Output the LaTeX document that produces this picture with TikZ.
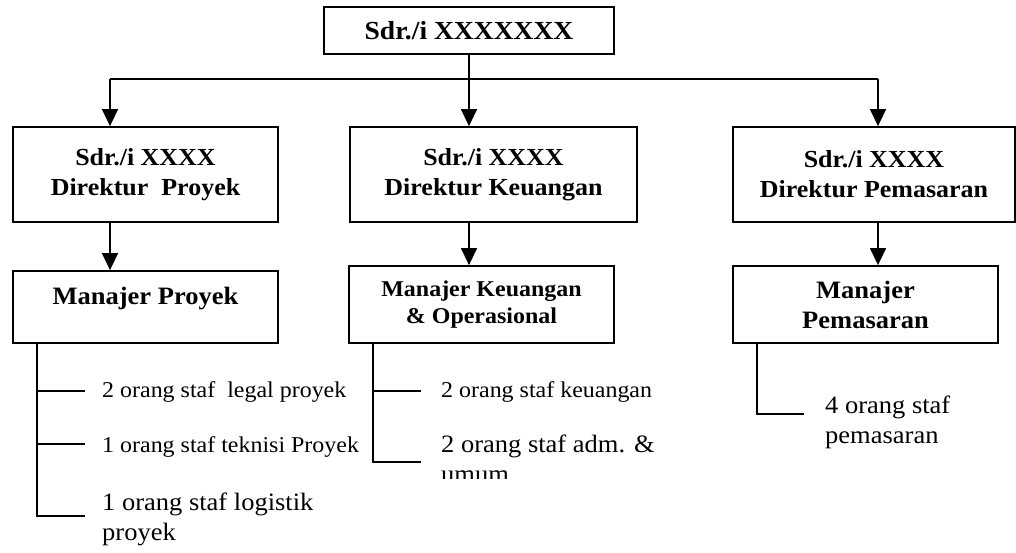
\documentclass[tikz,border=0pt]{standalone}
\usepackage{fontspec}
\setmainfont{Liberation Serif}[FakeStretch=1.06]
\usetikzlibrary{arrows.meta}
\newcommand\fsTop{\fontsize{26.0}{30}\selectfont}
\newcommand\fsDir{\fontsize{24.5}{30}\selectfont}
\newcommand\fsMgr{\fontsize{25.0}{30}\selectfont}
\newcommand\fsMgrK{\fontsize{22.6}{27}\selectfont}
\newcommand\fsS{\fontsize{22.6}{30}\selectfont}
\newcommand\fsL{\fontsize{25.0}{30}\selectfont}
\begin{document}
\begin{tikzpicture}[x=1pt,y=-1pt,
  box/.style={draw, line width=1.8pt, rectangle, inner sep=0pt, align=center},
  conn/.style={line width=1.5pt},
  arr/.style={conn, -{Triangle[length=17pt,width=16pt]}},
  staff/.style={inner sep=0pt, align=left}]
\useasboundingbox (0,0) rectangle (1016,552);
% boxes
\node[box, minimum width=290pt, minimum height=47pt, font=\bfseries\fsTop] (top) at (469,30.5) {Sdr./i XXXXXXX};
\node[box, minimum width=265pt, minimum height=95pt, font=\bfseries\fsDir] (d1) at (145.5,174.5) {Sdr./i XXXX\\Direktur\ \ Proyek};
\node[box, minimum width=287pt, minimum height=95pt, font=\bfseries\fsDir] (d2) at (493.5,174.5) {Sdr./i XXXX\\Direktur Keuangan};
\node[box, minimum width=282pt, minimum height=95pt, font=\bfseries\fsDir] (d3) at (874,174.5) {Sdr./i XXXX\\Direktur Pemasaran};
\node[box, minimum width=265pt, minimum height=72pt, text depth=23pt, font=\bfseries\fsMgr] (m1) at (145.5,307) {Manajer Proyek};
\node[box, minimum width=265pt, minimum height=77pt, font=\bfseries\fsMgrK] (m2) at (481.5,304.5) {Manajer Keuangan\\\& Operasional};
\node[box, minimum width=265pt, minimum height=77pt, font=\bfseries\fsMgr] (m3) at (865.5,304.5) {Manajer\\Pemasaran};
% connectors
\coordinate (hub) at (469,79);
\coordinate (c1) at (110,79);
\coordinate (c3) at (878,79);
\draw[conn] (top.south) -- (hub);
\draw[conn] (c1) -- (c3);
\draw[arr] (c1) -- (c1 |- d1.north);
\draw[arr] (hub) -- (hub |- d2.north);
\draw[arr] (c3) -- (c3 |- d3.north);
\draw[arr] (c1 |- d1.south) -- (c1 |- m1.north);
\draw[arr] (hub |- d2.south) -- (hub |- m2.north);
\draw[arr] (c3 |- d3.south) -- (c3 |- m3.north);
% staff brackets
\coordinate (v1) at (37,0);
\coordinate (k1) at (85,391);
\coordinate (k2) at (85,444);
\coordinate (k3) at (85,516);
\draw[conn] (m1.south -| v1) |- (k3);
\draw[conn] (k1 -| v1) -- (k1);
\draw[conn] (k2 -| v1) -- (k2);
\coordinate (v2) at (373,0);
\coordinate (k4) at (421,391);
\coordinate (k5) at (421,462);
\draw[conn] (m2.south -| v2) |- (k5);
\draw[conn] (k4 -| v2) -- (k4);
\coordinate (v3) at (757,0);
\coordinate (k6) at (804,414);
\draw[conn] (m3.south -| v3) |- (k6);
% staff texts
\node[staff, anchor=base west, font=\fsS] (t1) at (102,397) {2 orang staf\ \ legal proyek};
\node[staff, anchor=base west, font=\fsS] (t2) at (102,452) {1 orang staf teknisi Proyek};
\node[staff, anchor=west, font=\fsL] (t3) at (102,519.5) {1 orang staf logistik\\proyek};
\node[staff, anchor=base west, font=\fsS] (t4) at (441,397) {2 orang staf keuangan};
\begin{scope}
\clip (430,420) rectangle (700,478);
\node[staff, anchor=west, font=\fsL] (t5) at (441,459) {2 orang staf adm. \&\\umum};
\end{scope}
\node[staff, anchor=west, font=\fsL] (t6) at (825,422) {4 orang staf\\pemasaran};
\end{tikzpicture}
\end{document}
